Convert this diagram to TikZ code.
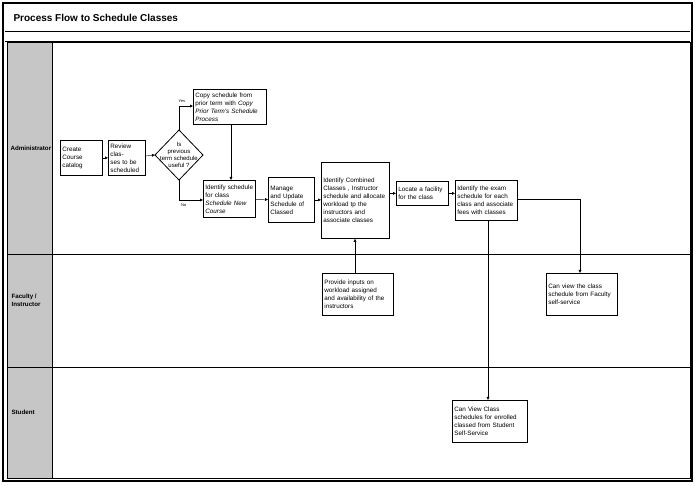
\documentclass[tikz,border=0pt]{standalone}
\usepackage{fontspec}
\setmainfont{Liberation Sans}
\usetikzlibrary{arrows.meta}
\hyphenpenalty=10000
\tikzset{
  stepbox/.style={draw, thick, align=left, anchor=north west, inner sep=2pt,
    font=\fontsize{6.3}{8}\selectfont},
  flow/.style={-{Latex[length=3pt,width=3pt]}},
  lanehead/.style={font=\bfseries\fontsize{6.2}{8}\selectfont}
}
\begin{document}
\begin{tikzpicture}[x=1pt,y=-1pt]
      \useasboundingbox (0,0) rectangle (697,486);
      % frame and lanes
      \draw[line width=1.5pt] (3,3) rectangle (692,481);
      \draw (5,31) -- (690,31) (5,41) -- (690,41);
      \fill[gray!45] (7,42) rectangle (52,478);
      \draw (7,42) rectangle (690,478);
      \draw (52,42) -- (52,478);
      \draw (7,254) -- (690,254) (7,367) -- (690,367);
      \node[anchor=west, font=\bfseries\fontsize{10}{12}\selectfont] (title) at (10,18) {Process Flow to Schedule Classes};
      \node[lanehead, anchor=west] (admin) at (7,148) {Administrator};
      \node[lanehead, anchor=west, align=left] (faculty) at (8,300) {Faculty /\\Instructor};
      \node[lanehead, anchor=west] (student) at (8,412) {Student};
      % steps
      \node[stepbox, text width=38, minimum height=35] (catalog) at (60,140) {Create\\Course\\catalog};
      \node[stepbox, text width=33, minimum height=35] (review) at (108,140) {Review clas-\\ses to be\\scheduled};
      \node[align=center, inner sep=0pt, font=\fontsize{6}{7.2}\selectfont] (useful) at (179,155) {Is\\previous\\term schedule\\useful ?};
      \coordinate (usefulN) at (179,130);
      \coordinate (usefulS) at (179,180);
      \coordinate (usefulW) at (155,155);
      \draw[thick] (usefulN) -- (203,155) -- (usefulS) -- (usefulW) -- cycle;
      \node[stepbox, text width=69, minimum height=35] (copy) at (193,89) {Copy schedule from prior term with \emph{Copy Prior Term's Schedule Process}};
      \node[stepbox, text width=48, minimum height=37] (identify) at (203,180) {Identify schedule for class \emph{Schedule New Course}};
      \node[stepbox, text width=42, minimum height=45] (manage) at (268,177) {Manage and Update Schedule of Classed};
      \node[stepbox, text width=64, minimum height=76] (combined) at (321,162) {Identify Combined Classes , Instructor schedule  and allocate workload tp the instructors and associate classes};
      \node[stepbox, text width=48, minimum height=24] (facility) at (396,181) {Locate a facility for the class};
      \node[stepbox, text width=58, minimum height=40] (exam) at (455,180) {Identify the exam schedule for each class and associate fees with classes};
      \node[stepbox, text width=67, minimum height=42] (inputs) at (322,273) {Provide inputs on workload assigned and availability of the instructors};
      \node[stepbox, text width=67, minimum height=42] (facview) at (546,273) {Can view the class schedule  from Faculty self-service};
      \node[stepbox, text width=71, minimum height=42] (stuview) at (452,400) {Can View Class schedules for enrolled classed from Student Self-Service};
      % connectors
      \draw[flow] (catalog) -- (review);
      \draw[flow] (review) -- (usefulW);
      \draw[flow] (usefulN) |- node[pos=0.6, above, font=\fontsize{4}{5}\selectfont] {Yes} (copy.west |- 0,106);
      \draw[flow] (usefulS) |- node[pos=0.6, below, font=\fontsize{4}{5}\selectfont] {No} (identify.west |- 0,200);
      \draw[flow] (copy.south -| 231,0) -- (identify.north -| 231,0);
      \draw[flow] (identify) -- (manage);
      \draw[flow] (manage.east) -- (combined.west |- manage.east);
      \draw[flow] (combined.east |- facility.west) -- (facility.west);
      \draw[flow] (facility) -- (exam.west |- facility);
      \draw[flow] (exam.east |- 0,199) -| (facview.north -| 580,0);
      \draw[flow] (exam.south -| 488,0) -- (stuview.north -| 488,0);
      \draw[flow] (inputs.north -| 355,0) -- (combined.south -| 355,0);
\end{tikzpicture}
\end{document}
